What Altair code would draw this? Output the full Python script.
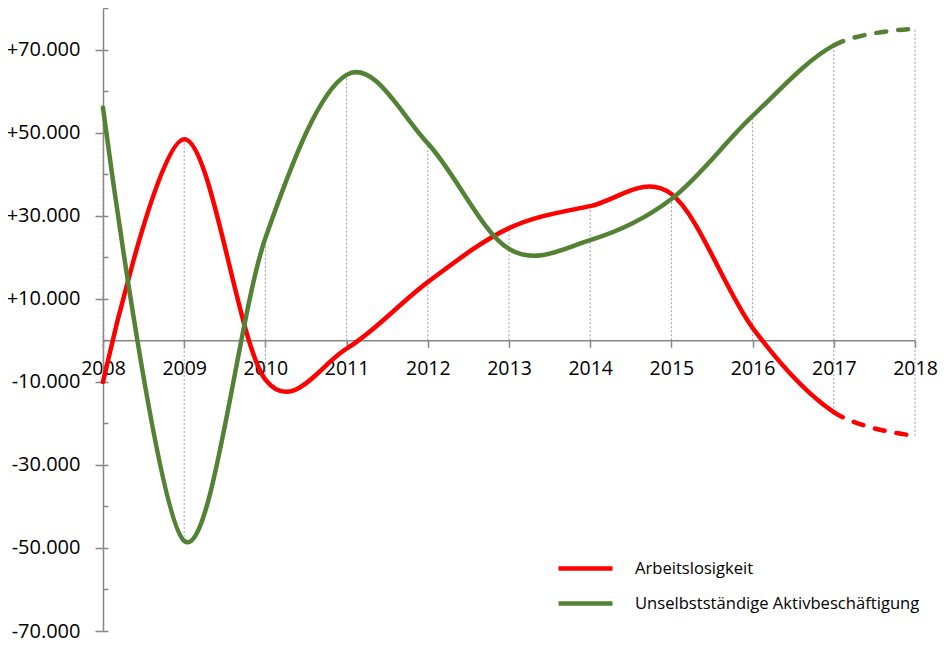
import altair as alt
import pandas as pd
import numpy as np

# ---- data ----
years = list(range(2008, 2019))
arbeitslosigkeit = [-10000, 48400, -9500, -2000, 14000, 27000, 32300, 35200, 3000, -17300, -23000]
aktivbeschaeftigung = [56000, -48300, 24600, 63900, 47400, 22000, 24100, 34000, 54000, 71000, 75000]
series_names = ["Arbeitslosigkeit", "Unselbstständige Aktivbeschäftigung"]
series_colors = ["#FF0000", "#548235"]
y_label_values = [-70000, -50000, -30000, -10000, 10000, 30000, 50000, 70000]
y_tick_values = list(range(-70000, 80001, 10000))
last_solid_year = 2017

Y_MIN, Y_MAX = -70000, 80000
W, H = 812, 623
FONT = "Open Sans"

df = pd.DataFrame({
    "year": years * 2,
    "value": arbeitslosigkeit + aktivbeschaeftigung,
    "series": [series_names[0]] * len(years) + [series_names[1]] * len(years),
})
drop = pd.DataFrame({
    "year": years,
    "lo": [min(0, a, b) for a, b in zip(arbeitslosigkeit, aktivbeschaeftigung)],
    "hi": [max(0, a, b) for a, b in zip(arbeitslosigkeit, aktivbeschaeftigung)],
})


def curve_length(vals, upto):
    """Arc length (px) of the d3 cardinal curve up to point index `upto`."""
    P = np.array([[(y - years[0]) / (years[-1] - years[0]) * W,
                   H - (v - Y_MIN) / (Y_MAX - Y_MIN) * H] for y, v in zip(years, vals)])
    n, k, total = len(P), 1 / 6, 0.0
    t = np.linspace(0, 1, 600)[:, None]
    for i in range(upto):
        p1, p2 = P[i], P[i + 1]
        p0 = P[i - 1] if i > 0 else P[i + 1]
        p3 = P[i + 2] if i + 2 < n else P[i]
        c1 = p1 + k * (p2 - p0)
        c2 = p2 + k * (p1 - p3)
        b = (1 - t) ** 3 * p1 + 3 * (1 - t) ** 2 * t * c1 + 3 * (1 - t) * t ** 2 * c2 + t ** 3 * p2
        total += float(np.sum(np.hypot(*np.diff(b, axis=0).T)))
    return total


idx = years.index(last_solid_year)
yscale = alt.Scale(domain=[Y_MIN, Y_MAX], nice=False, zero=False)
xscale = alt.Scale(domain=[years[0], years[-1]], nice=False, zero=False)
cscale = alt.Scale(domain=series_names, range=series_colors)
x_offset = -H * (0 - Y_MIN) / (Y_MAX - Y_MIN)

x_axis = alt.Axis(values=years, format="d", orient="bottom", offset=x_offset, tickSize=7,
                  labelPadding=12, grid=False, title=None, domainColor="#868686", tickColor="#868686",
                  domainWidth=1.5, tickWidth=1.5, labelFont=FONT, labelFontSize=19.5, labelColor="#000000",
                  labelFlush=False, labelOverlap=False)

y_axis = alt.Axis(orient="left", values=y_label_values, tickSize=8, labelPadding=15, grid=False,
                  title=None, domainColor="#868686", tickColor="#868686", domainWidth=1.5, tickWidth=1.5,
                  labelFont=FONT, labelFontSize=20, labelColor="#000000",
                  labelExpr="(datum.value < 0 ? '-' : '+') + replace(format(abs(datum.value), ','), ',', '.')")

minor_axis = alt.Axis(orient="right", offset=-W, values=y_tick_values, labels=False, domain=False,
                      tickSize=5, tickColor="#868686", tickWidth=1.5, grid=False, title=None)

X = alt.X("year:Q", scale=xscale, axis=x_axis)

drops = alt.Chart(drop).mark_rule(color="#9a9a9a", strokeWidth=1, strokeDash=[2, 2]).encode(
    x=X,
    y=alt.Y("lo:Q", scale=yscale, axis=minor_axis),
    y2="hi:Q",
)

layers = [drops]
for i, (name, vals) in enumerate(zip(series_names, [arbeitslosigkeit, aktivbeschaeftigung])):
    L = curve_length(vals, idx)
    sub = df[df["series"] == name]
    legend = alt.Legend(orient="none", legendX=453, legendY=543, title=None, symbolType="stroke",
                        symbolStrokeWidth=4.5, symbolSize=2916, labelFont=FONT, labelFontSize=16.6,
                        labelColor="#000000", labelOffset=20, labelLimit=0, clipHeight=35,
                        rowPadding=0, padding=0) if i == 0 else None
    solid = alt.Chart(sub).mark_line(interpolate="cardinal", strokeWidth=4.5, strokeCap="round",
                                     strokeDash=[L, 5000]).encode(
        x=X,
        y=alt.Y("value:Q", scale=yscale, axis=y_axis if i == 0 else None),
        color=alt.Color("series:N", scale=cscale, legend=legend),
    )
    dashed = alt.Chart(sub).mark_line(interpolate="cardinal", strokeWidth=4.5, strokeCap="round",
                                      strokeDash=[0, L] + [10, 12] * 10).encode(
        x=X,
        y=alt.Y("value:Q", scale=yscale, axis=None),
        color=alt.Color("series:N", scale=cscale, legend=None),
    )
    layers += [solid, dashed]

chart = alt.layer(*layers).resolve_scale(y="independent").resolve_axis(y="independent").properties(
    width=W, height=H, autosize=alt.AutoSizeParams(type="none"),
    padding={"left": 95, "top": 0, "right": 24, "bottom": 12},
).configure_view(stroke=None)

chart.save("out.html", embed_options={"renderer": "svg", "actions": False})
